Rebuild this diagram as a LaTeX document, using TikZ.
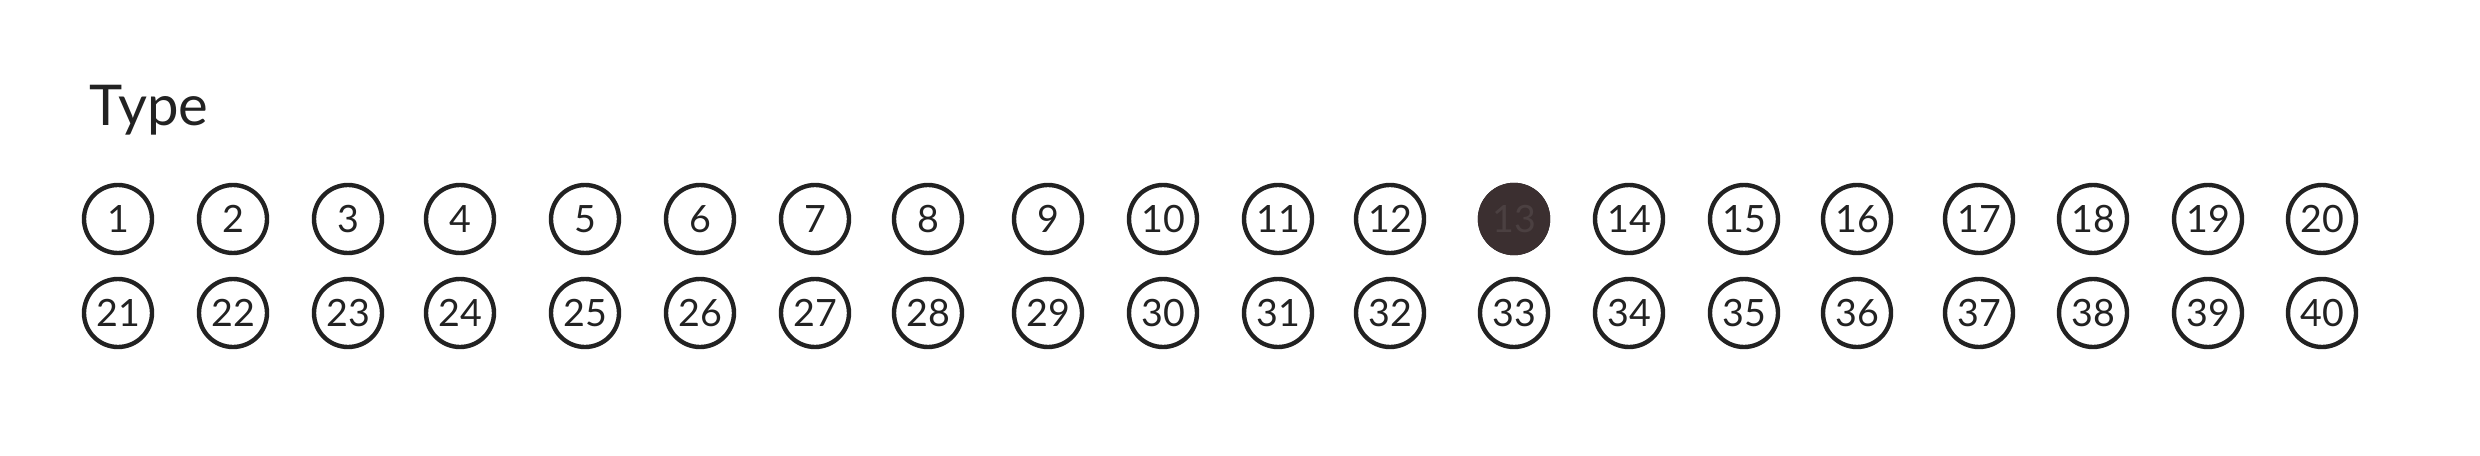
\documentclass[tikz,border=0pt]{standalone}
\usepackage{fontspec}
\setmainfont{Lato}
\definecolor{ink}{HTML}{222222}
\definecolor{marked}{HTML}{3B2F30}

\begin{document}
\begin{tikzpicture}[x=0.1mm, y=-0.1mm,
	typecirc/.style={circle, draw=ink, text=ink, line width=1.25pt, minimum size=6.8mm,
		inner sep=0pt, font=\fontsize{10.7}{12}\selectfont}]
	\useasboundingbox (0, 0) rectangle (2480, 456);

	% 标题
	\node[anchor=base west, inner sep=0pt, text=ink, font=\fontsize{16}{19}\selectfont]
		(title) at (89, 126) {Type};

	% 两排编号圆圈
	\foreach \x [count=\i] in {118, 233, 348, 460, 585, 700, 815, 928, 1048, 1163,
			1278, 1390, 1514, 1629, 1744, 1857, 1979, 2093, 2208, 2322} {
		\pgfmathtruncatemacro\j{\i + 20}
		\node[typecirc] (n\i) at (\x, 219) {\i};
		\node[typecirc] (n\j) at (\x, 313) {\j};
	}

	% 涂黑的 13 号
	\node[typecirc, fill=marked, draw=marked, text=marked!92!white]
		(n13mark) at (n13) {13};
\end{tikzpicture}
\end{document}
